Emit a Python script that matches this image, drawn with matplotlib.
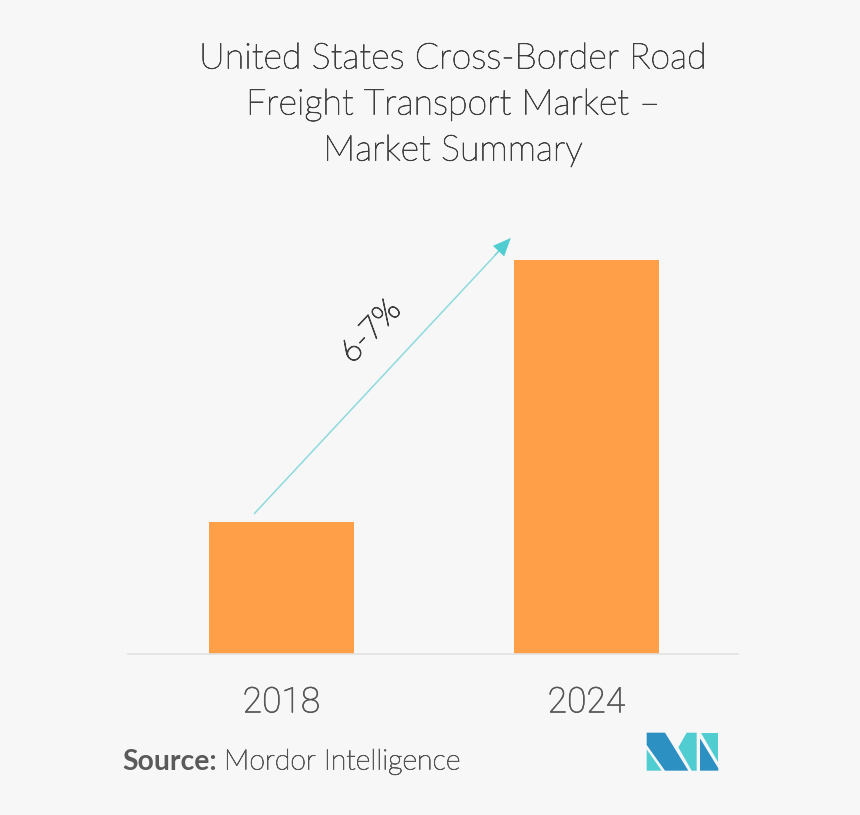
# Market summary bar chart with growth arrow and logo

import matplotlib
matplotlib.use("Agg")
import matplotlib.pyplot as plt
import matplotlib.patheffects as pe
from matplotlib.patches import Polygon

years = ["2018", "2024"]
market_size = [132, 394]  # no axis in the picture, bar heights only
growth_label = "6-7%"
title_lines = ["United States Cross-Border Road", "Freight Transport Market \u2013", "Market Summary"]

BG = "#f7f7f7"
ORANGE = "#ff9f47"
TEAL = "#4fcdd1"
BLUE = "#2d90c3"
W, H = 860, 815

plt.rcParams["font.family"] = ["Lato", "DejaVu Sans"]

# Lato Light alone comes out too thin, so thicken it a little
def thicken(color, width=0.55):
    return [pe.withStroke(linewidth=width, foreground=color)]

fig = plt.figure(figsize=(W / 100, H / 100), dpi=100, facecolor=BG)
ax = fig.add_axes([128 / W, 1 - 654 / H, 610 / W, 454 / H], facecolor="none")

positions = range(len(years))
ax.bar(positions, market_size, width=0.475, color=ORANGE)
ax.set_xlim(-0.503, 1.497)
ax.set_ylim(0, 454)
ax.set_yticks([])
ax.set_xticks(list(positions))
ax.set_xticklabels(years, family="Roboto", fontweight="light", fontsize=25.5, color="#555555",
                   path_effects=thicken("#555555", 0.4))
ax.tick_params(axis="x", length=0, pad=23)
for s in ["top", "left", "right"]:
    ax.spines[s].set_visible(False)
ax.spines["bottom"].set_color("#e2e2e2")
ax.spines["bottom"].set_linewidth(1.2)

# growth arrow: pale shaft, stronger head
ax.plot([-0.09, 0.735], [140, 410], color="#8edadd", lw=1.1, solid_capstyle="butt")
ax.annotate("", xy=(0.752, 416), xytext=(0.70, 399),
            arrowprops=dict(arrowstyle="-|>,head_length=0.75,head_width=0.32",
                            fc=TEAL, ec=TEAL, lw=0.5, shrinkA=0, shrinkB=0, mutation_scale=16))
fig.text(371 / W, 1 - 332 / H, growth_label, rotation=47, ha="center", va="center",
         fontsize=23, color="#3f3f3f", fontweight="light", path_effects=thicken("#3f3f3f", 0.8))

# title
for i, line in enumerate(title_lines):
    fig.text(453 / W, 1 - (59 + i * 46) / H, line, ha="center", va="center",
             fontsize=25.8, color="#3f3f3f", fontweight="light", path_effects=thicken("#3f3f3f"))

# source
fig.text(122 / W, 1 - 762 / H, "Source:", ha="left", va="center",
         fontsize=20.4, color="#5a5a5a", fontweight="bold")
fig.text(224 / W, 1 - 762 / H, "Mordor Intelligence", ha="left", va="center",
         fontsize=20.5, color="#555555", fontweight="light", path_effects=thicken("#555555"))

# logo
logo = [
    (BLUE, [(80, 68), (135, 68), (205, 182), (135, 182), (80, 105)]),
    (TEAL, [(80, 118), (125, 182), (80, 182)]),
    (TEAL, [(200, 68), (230, 68), (230, 182), (215, 182), (175, 112)]),
    (TEAL, [(243, 68), (295, 68), (295, 155)]),
    (BLUE, [(240, 85), (295, 175), (295, 182), (240, 182)]),
]
for color, pts in logo:
    xy = [((620 + x / 3) / W, 1 - (710 + y / 3) / H) for x, y in pts]
    fig.add_artist(Polygon(xy, closed=True, facecolor=color, edgecolor="none", transform=fig.transFigure))

fig.savefig("out.png", dpi=100, facecolor=BG)
